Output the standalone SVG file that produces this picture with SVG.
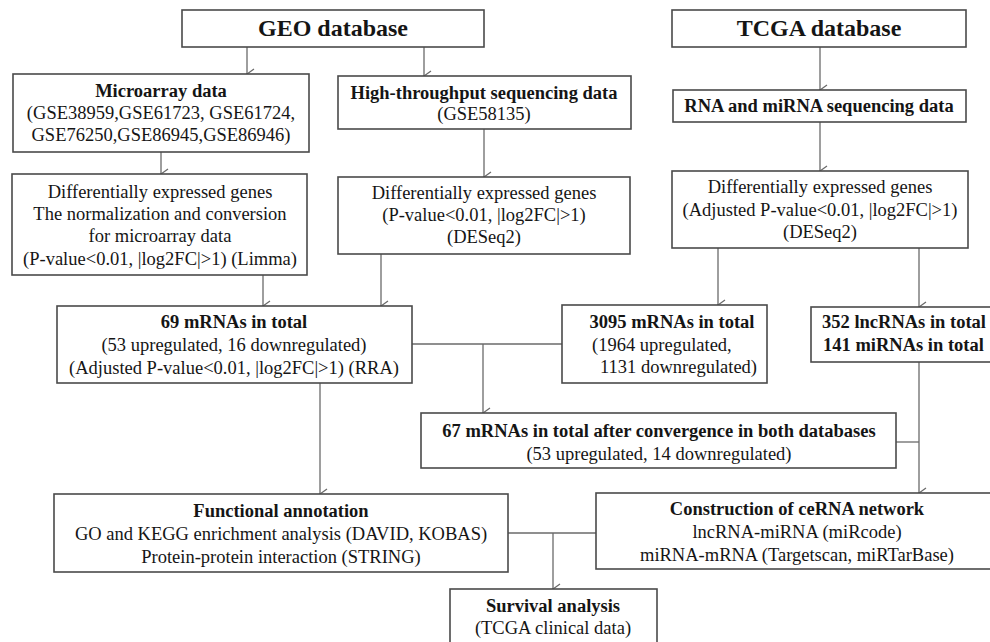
<svg xmlns="http://www.w3.org/2000/svg" width="990" height="642" viewBox="0 0 990 642">
<style>
.box{fill:#fff;stroke:#4a4a4a;stroke-width:1.6}
.ln{fill:none;stroke:#6a6a6a;stroke-width:1.3}
text{font-family:"Liberation Serif","Times New Roman",serif;font-size:18.5px;fill:#151515;text-anchor:middle}
.b{font-weight:bold}
.h{font-size:24px;font-weight:bold}
.s{text-anchor:start}
</style>
<defs>
<marker id="ar" viewBox="0 0 12 12" refX="6" refY="11" markerWidth="12" markerHeight="12" markerUnits="userSpaceOnUse" orient="auto-start-reverse">
<path d="M1,4 L6,11 L11,4" fill="none" stroke="#6a6a6a" stroke-width="1.3"/>
</marker>
</defs>
<rect width="990" height="642" fill="#fff"/>
<g id="connectors">
<line class="ln" x1="247" y1="47" x2="247" y2="74" marker-end="url(#ar)"/>
<line class="ln" x1="424" y1="47" x2="424" y2="76" marker-end="url(#ar)"/>
<line class="ln" x1="820" y1="47" x2="820" y2="90" marker-end="url(#ar)"/>
<line class="ln" x1="161" y1="152" x2="161" y2="174" marker-end="url(#ar)"/>
<line class="ln" x1="484" y1="129" x2="484" y2="177" marker-end="url(#ar)"/>
<line class="ln" x1="820" y1="122" x2="820" y2="171" marker-end="url(#ar)"/>
<line class="ln" x1="263" y1="275" x2="263" y2="306" marker-end="url(#ar)"/>
<line class="ln" x1="381" y1="254" x2="381" y2="306" marker-end="url(#ar)"/>
<line class="ln" x1="718" y1="248" x2="718" y2="305" marker-end="url(#ar)"/>
<line class="ln" x1="919" y1="248" x2="919" y2="307" marker-end="url(#ar)"/>
<line class="ln" x1="412" y1="344" x2="562" y2="344"/>
<line class="ln" x1="483" y1="344" x2="483" y2="413" marker-end="url(#ar)"/>
<line class="ln" x1="919" y1="362" x2="919" y2="493" marker-end="url(#ar)"/>
<line class="ln" x1="896" y1="442" x2="919" y2="442"/>
<line class="ln" x1="320" y1="383" x2="320" y2="494" marker-end="url(#ar)"/>
<line class="ln" x1="508" y1="533" x2="596" y2="533"/>
<line class="ln" x1="553" y1="533" x2="553" y2="589" marker-end="url(#ar)"/>
</g>
<g id="geo">
<rect class="box" x="182" y="10" width="302" height="37"/>
<text class="h" x="333" y="36">GEO database</text>
</g>
<g id="tcga">
<rect class="box" x="672" y="10" width="294" height="37"/>
<text class="h" x="819" y="36">TCGA database</text>
</g>
<g id="microarray">
<rect class="box" x="13" y="74" width="296" height="78"/>
<text class="b" x="161" y="97">Microarray data</text>
<text x="161" y="119">(GSE38959,GSE61723, GSE61724,</text>
<text x="161" y="141">GSE76250,GSE86945,GSE86946)</text>
</g>
<g id="hts">
<rect class="box" x="338" y="76" width="293" height="53"/>
<text class="b" x="484" y="99">High-throughput sequencing data</text>
<text x="484" y="120">(GSE58135)</text>
</g>
<g id="rnaseq">
<rect class="box" x="673" y="90" width="293" height="32"/>
<text class="b" x="819" y="112">RNA and miRNA sequencing data</text>
</g>
<g id="deg-left">
<rect class="box" x="12" y="174" width="295" height="101"/>
<text x="160" y="198">Differentially expressed genes</text>
<text x="160" y="220">The normalization and conversion</text>
<text x="160" y="242">for microarray data</text>
<text x="160" y="265">(P-value&lt;0.01, |log2FC|&gt;1) (Limma)</text>
</g>
<g id="deg-mid">
<rect class="box" x="338" y="177" width="292" height="77"/>
<text x="484" y="199">Differentially expressed genes</text>
<text x="484" y="221">(P-value&lt;0.01, |log2FC|&gt;1)</text>
<text x="484" y="243">(DESeq2)</text>
</g>
<g id="deg-right">
<rect class="box" x="672" y="171" width="296" height="77"/>
<text x="820" y="193">Differentially expressed genes</text>
<text x="820" y="216">(Adjusted P-value&lt;0.01, |log2FC|&gt;1)</text>
<text x="820" y="238">(DESeq2)</text>
</g>
<g id="m69">
<rect class="box" x="57" y="306" width="355" height="77"/>
<text class="b" x="234" y="328">69 mRNAs in total</text>
<text x="234" y="351">(53 upregulated, 16 downregulated)</text>
<text x="234" y="374">(Adjusted P-value&lt;0.01, |log2FC|&gt;1) (RRA)</text>
</g>
<g id="m3095">
<rect class="box" x="562" y="305" width="205" height="78"/>
<text class="b" x="672" y="328">3095 mRNAs in total</text>
<text class="s" x="592" y="351">(1964 upregulated,</text>
<text class="s" x="600" y="373">1131 downregulated)</text>
</g>
<g id="lnc352">
<rect class="box" x="811" y="307" width="190" height="55"/>
<text class="b s" x="822" y="328">352 lncRNAs in total</text>
<text class="b s" x="823" y="351">141 miRNAs in total</text>
</g>
<g id="m67">
<rect class="box" x="421" y="413" width="475" height="55"/>
<text class="b" x="659" y="437">67 mRNAs in total after convergence in both databases</text>
<text x="659" y="460">(53 upregulated, 14 downregulated)</text>
</g>
<g id="functional">
<rect class="box" x="54" y="494" width="454" height="78"/>
<text class="b" x="281" y="517">Functional annotation</text>
<text x="281" y="540">GO and KEGG enrichment analysis (DAVID, KOBAS)</text>
<text x="281" y="563">Protein-protein interaction (STRING)</text>
</g>
<g id="cerna">
<rect class="box" x="596" y="493" width="404" height="76"/>
<text class="b" x="797" y="515">Construction of ceRNA network</text>
<text x="797" y="538">lncRNA-miRNA (miRcode)</text>
<text x="797" y="561">miRNA-mRNA (Targetscan, miRTarBase)</text>
</g>
<g id="survival">
<rect class="box" x="450" y="589" width="207" height="60"/>
<text class="b" x="553" y="612">Survival analysis</text>
<text x="553" y="634">(TCGA clinical data)</text>
</g>
</svg>
